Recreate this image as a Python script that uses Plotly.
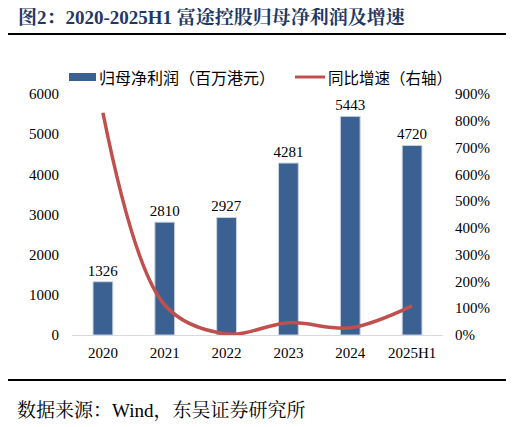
import plotly.graph_objects as go

# data
years = ["2020", "2021", "2022", "2023", "2024", "2025H1"]
net_profit = [1326, 2810, 2927, 4281, 5443, 4720]      # 百万港元
growth = [8.30, 1.12, 0.04, 0.46, 0.27, 1.09]          # 同比增速, right axis

title_text = "图2：2020-2025H1 富途控股归母净利润及增速"
source_text = "数据来源：Wind，东吴证券研究所"
bar_name = "归母净利润（百万港元）"
line_name = "同比增速（右轴）"

BAR_COLOR = "#3A6191"
LINE_COLOR = "#C0504D"
SERIF = "Liberation Serif, Noto Serif CJK SC, Noto Sans CJK SC, serif"
CJK = "Noto Sans CJK SC, Liberation Serif, serif"

# the page body adds an 8px margin, so everything is laid out 8px up/left
OFF = 8
W, H = 514, 427
PLOT_L, PLOT_T, PLOT_W, PLOT_H = 72 - OFF, 94 - OFF, 371, 241
L, T = PLOT_L, PLOT_T
R, B = W - L - PLOT_W, H - T - PLOT_H


def px(x):
    return (x - OFF - L) / PLOT_W


def py(y):
    return (T + PLOT_H - (y - OFF)) / PLOT_H


fig = go.Figure()

fig.add_trace(go.Bar(
    x=years, y=net_profit, name=bar_name,
    marker=dict(color=BAR_COLOR, line=dict(color="#c9d3e2", width=1)),
    text=net_profit, textposition="outside", constraintext="none",
    textfont=dict(family=SERIF, size=15, color="#000"),
    cliponaxis=False, showlegend=False,
))

fig.add_trace(go.Scatter(
    x=years, y=growth, name=line_name, yaxis="y2",
    mode="lines", line=dict(color=LINE_COLOR, width=3.5, shape="spline", smoothing=1),
    showlegend=False,
))

fig.update_layout(
    width=W, height=H,
    margin=dict(l=L, r=R, t=T, b=B),
    paper_bgcolor="white", plot_bgcolor="white",
    bargap=0.68,
    font=dict(family=SERIF, size=15, color="#000"),
    xaxis=dict(showline=True, linecolor="#d9d9d9", linewidth=1, ticks="",
               ticklabelstandoff=4,
               tickfont=dict(family=SERIF, size=15), showgrid=False),
    yaxis=dict(range=[0, 6000], dtick=1000, showgrid=False, zeroline=False,
               ticks="", ticklabelstandoff=12,
               tickfont=dict(family=SERIF, size=15)),
    yaxis2=dict(range=[0, 9], dtick=1, overlaying="y", side="right",
                tickformat=".0%", showgrid=False, zeroline=False,
                ticks="", ticklabelstandoff=11,
                tickfont=dict(family=SERIF, size=15)),
)

# title, rules and source
fig.add_annotation(x=px(16), y=py(17), xref="paper", yref="paper",
                   text="<b>" + title_text + "</b>", showarrow=False,
                   xanchor="left", yanchor="middle",
                   font=dict(family=SERIF, size=19, color="#1F3864"))
fig.add_shape(type="line", xref="paper", yref="paper",
              x0=px(5), x1=px(508), y0=py(34), y1=py(34),
              line=dict(color="#000", width=2))
fig.add_shape(type="line", xref="paper", yref="paper",
              x0=px(5), x1=px(508), y0=py(380), y1=py(380),
              line=dict(color="#000", width=2))
fig.add_annotation(x=px(15), y=py(410), xref="paper", yref="paper",
                   text=source_text, showarrow=False,
                   xanchor="left", yanchor="middle",
                   font=dict(family=SERIF, size=19, color="#000"))

# custom legend
fig.add_shape(type="rect", xref="paper", yref="paper",
              x0=px(69), x1=px(96), y0=py(73), y1=py(81),
              fillcolor=BAR_COLOR, line=dict(width=0))
fig.add_annotation(x=px(97), y=py(77), xref="paper", yref="paper",
                   text=bar_name, showarrow=False, xanchor="left", yanchor="middle",
                   font=dict(family=CJK, size=16, color="#000"))
fig.add_shape(type="line", xref="paper", yref="paper",
              x0=px(295), x1=px(325), y0=py(77), y1=py(77),
              line=dict(color=LINE_COLOR, width=3))
fig.add_annotation(x=px(326), y=py(77), xref="paper", yref="paper",
                   text=line_name, showarrow=False, xanchor="left", yanchor="middle",
                   font=dict(family=CJK, size=15.5, color="#000"))

fig.write_html("out.html")
